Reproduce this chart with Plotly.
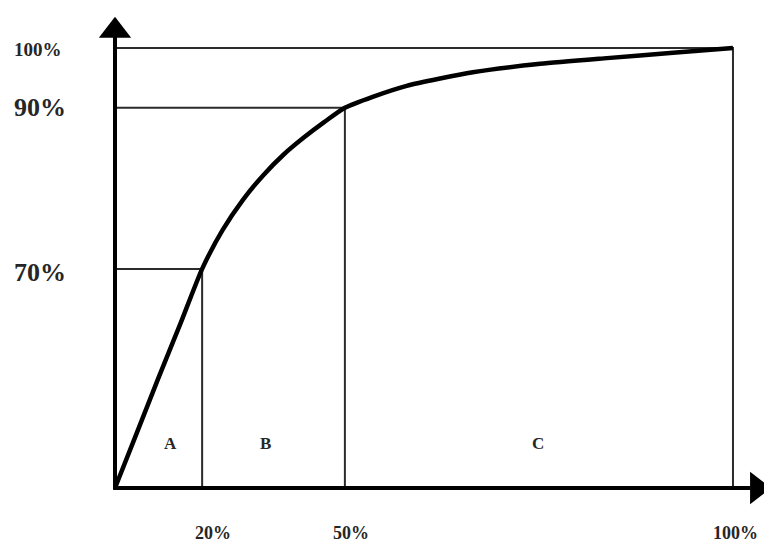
import plotly.graph_objects as go

# schematic axis units (the original picture is not drawn to a linear scale)
x_labels = ["20%", "50%", "100%"]
x_at = [14.1, 37.2, 100.0]
y_labels = ["70%", "90%", "100%"]
y_at = [49.8, 86.4, 100.0]

curve_x = [0, 3.5, 7.0, 10.6, 14.1, 17.4, 20.7, 24.0, 27.3, 30.6, 33.9, 37.2,
           41.7, 47.2, 57.9, 68.8, 79.6, 90.3, 100.0]
curve_y = [0, 12.4, 24.9, 37.4, 49.8, 58.6, 65.5, 71.1, 75.8, 79.7, 83.2, 86.4,
           88.9, 91.4, 94.5, 96.4, 97.7, 98.9, 100.0]

zones = ["A", "B", "C"]
zone_x = [8.9, 24.3, 68.4]

serif = dict(family="Liberation Serif", color="#262626", weight="bold")

fig = go.Figure()

# guide lines: from the y axis across to the point, then down to the x axis
for xa, ya in zip(x_at, y_at):
    fig.add_trace(go.Scatter(x=[0, xa, xa], y=[ya, ya, 0], mode="lines",
                             line=dict(color="#2b2b2b", width=2), hoverinfo="skip"))

# the cumulative curve
fig.add_trace(go.Scatter(x=curve_x, y=curve_y, mode="lines",
                         line=dict(color="black", width=4.5, shape="spline", smoothing=0.6),
                         hoverinfo="skip"))

# axes with arrow heads
fig.add_trace(go.Scatter(x=[-0.3, 103.0], y=[0, 0], mode="lines",
                         line=dict(color="black", width=4), hoverinfo="skip"))
fig.add_trace(go.Scatter(x=[0, 0], y=[-0.3, 103.0], mode="lines",
                         line=dict(color="black", width=4), hoverinfo="skip"))
fig.add_trace(go.Scatter(x=[103.9], y=[0], mode="markers",
                         marker=dict(symbol="triangle-right", size=28, color="black"),
                         hoverinfo="skip"))
fig.add_trace(go.Scatter(x=[0], y=[103.9], mode="markers",
                         marker=dict(symbol="triangle-up", size=28, color="black"),
                         hoverinfo="skip"))

# tick texts
x_shift = [11, 6, 3]
for lab, xa, sh in zip(x_labels, x_at, x_shift):
    fig.add_annotation(x=xa, y=-10.3, text=lab, showarrow=False, xshift=sh,
                       font=dict(size=18, **serif))
y_size = [26, 26, 19]
y_shift = [-4, 0, -1]
for lab, ya, fs, sh in zip(y_labels, y_at, y_size, y_shift):
    fig.add_annotation(x=-16.6, y=ya, text=lab, showarrow=False, xanchor="left",
                       yshift=sh, font=dict(size=fs, **serif))

for z, zx in zip(zones, zone_x):
    fig.add_annotation(x=zx, y=10.2, text=z, showarrow=False,
                       font=dict(size=17, **serif))

fig.update_layout(
    width=764, height=547,
    margin=dict(l=0, r=0, t=0, b=0),
    paper_bgcolor="white", plot_bgcolor="white",
    showlegend=False,
    xaxis=dict(range=[-18.61, 105.02], visible=False, fixedrange=True),
    yaxis=dict(range=[-13.41, 110.91], visible=False, fixedrange=True),
)

fig.write_html("out.html", post_script="document.body.style.margin='0';",
               config={"displayModeBar": False})
